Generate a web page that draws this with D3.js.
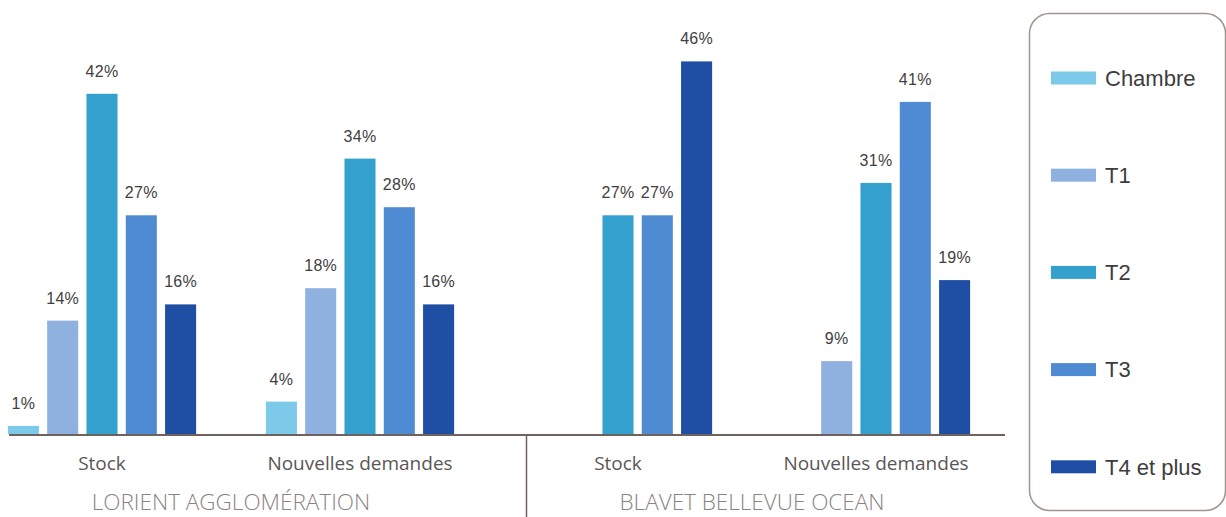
<!DOCTYPE html>
<html>
<head>
<meta charset="utf-8">
<script src="https://cdn.jsdelivr.net/npm/d3@7"></script>
<style>
  html, body { margin: 0; padding: 0; background: #ffffff; }
  svg { display: block; }
</style>
</head>
<body>
<svg id="chart" width="1226" height="517"></svg>
<script>
// ---- data ----
const groups = ["Stock", "Nouvelles demandes", "Stock", "Nouvelles demandes"];
const regions = ["LORIENT AGGLOMÉRATION", "BLAVET BELLEVUE OCEAN"];
const series = ["Chambre", "T1", "T2", "T3", "T4 et plus"];
const chambre = [1, 4, null, null];
const t1 = [14, 18, null, 9];
const t2 = [42, 34, 27, 31];
const t3 = [27, 28, 27, 41];
const t4 = [16, 16, 46, 19];
const colors = ["#7cc9ea", "#8fb1df", "#34a0ce", "#4e8bd2", "#1e4fa5"];

const values = [chambre, t1, t2, t3, t4];

const svg = d3.select("#chart");
const baseY = 434;

const x = d3.scaleBand().domain(d3.range(groups.length)).range([-27, 1005]).padding(0);
const xi = d3.scaleBand().domain(series).range([-98.25, 98.25]).paddingInner(0.21).paddingOuter(0.105);
const y = d3.scaleLinear().domain([0, 50]).range([baseY, 29]);
const color = d3.scaleOrdinal().domain(series).range(colors);

const bars = [];
series.forEach((s, si) => {
  values[si].forEach((v, gi) => {
    if (v !== null) bars.push({ s, gi, v });
  });
});

const cx = gi => x(gi) + x.bandwidth() / 2;

svg.append("g").selectAll("rect").data(bars).join("rect")
  .attr("x", d => cx(d.gi) + xi(d.s))
  .attr("y", d => y(d.v))
  .attr("width", xi.bandwidth())
  .attr("height", d => y(0) - y(d.v))
  .attr("fill", d => color(d.s));

svg.append("g").selectAll("text").data(bars).join("text")
  .attr("x", d => cx(d.gi) + xi(d.s) + xi.bandwidth() / 2)
  .attr("y", d => y(d.v) - 17)
  .attr("text-anchor", "middle")
  .attr("font-family", "'Liberation Sans', Arial, sans-serif")
  .attr("font-size", 16)
  .attr("letter-spacing", 0.3)
  .attr("fill", "#404040")
  .text(d => d.v + "%");

// axis
const axisG = svg.append("g").attr("transform", `translate(0,${baseY + 1})`)
  .call(d3.axisBottom(x).tickSize(0).tickFormat(i => groups[i]));
axisG.select(".domain").remove();
axisG.selectAll(".tick text")
  .attr("y", 35).attr("dy", null)
  .attr("font-family", "'Open Sans', sans-serif")
  .attr("font-size", 19)
  .attr("fill", "#5a5656");
svg.append("line")
  .attr("x1", 9).attr("x2", 1005)
  .attr("y1", baseY + 1).attr("y2", baseY + 1)
  .attr("stroke", "#6e625e").attr("stroke-width", 2);

// separator
svg.append("line")
  .attr("x1", 526.5).attr("x2", 526.5)
  .attr("y1", baseY + 1).attr("y2", 517)
  .attr("stroke", "#6e625e").attr("stroke-width", 1.5);

// region titles
svg.append("g").selectAll("text").data(regions).join("text")
  .attr("x", (d, i) => (cx(i * 2) + cx(i * 2 + 1)) / 2 + i * 5)
  .attr("y", 510)
  .attr("text-anchor", "middle")
  .attr("font-family", "'Open Sans', sans-serif")
  .attr("font-weight", 300)
  .attr("font-size", 22.5)
  .attr("fill", "#8a8380")
  .text(d => d);

// legend
svg.append("rect")
  .attr("x", 1029.5).attr("y", 13.5)
  .attr("width", 196).attr("height", 497)
  .attr("rx", 20).attr("ry", 20)
  .attr("fill", "none")
  .attr("stroke", "#a2958f").attr("stroke-width", 1.5);

const leg = svg.append("g").selectAll("g").data(series).join("g")
  .attr("transform", (d, i) => `translate(1051,${78 + i * 97.2})`);
leg.append("rect")
  .attr("x", 0).attr("y", -6.5)
  .attr("width", 45).attr("height", 13)
  .attr("fill", d => color(d));
leg.append("text")
  .attr("x", 54).attr("y", 0)
  .attr("dy", "0.35em")
  .attr("font-family", "'Liberation Sans', Arial, sans-serif")
  .attr("font-size", 22)
  .attr("fill", "#3d3d3d")
  .text(d => d);
</script>
</body>
</html>
